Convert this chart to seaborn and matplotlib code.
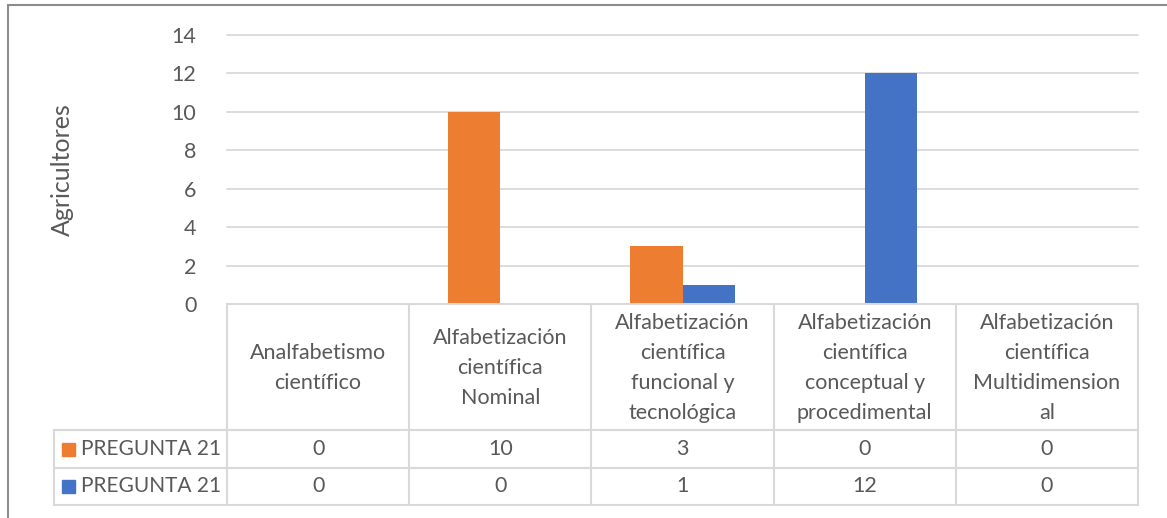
import matplotlib
matplotlib.use("Agg")
import matplotlib.pyplot as plt
import seaborn as sns
import pandas as pd
from matplotlib.lines import Line2D
from matplotlib.patches import Rectangle

categories = [
    "Analfabetismo\ncientífico",
    "Alfabetización\ncientífica\nNominal",
    "Alfabetización\ncientífica\nfuncional y\ntecnológica",
    "Alfabetización\ncientífica\nconceptual y\nprocedimental",
    "Alfabetización\ncientífica\nMultidimension\nal",
]
series_names = ["PREGUNTA 21", "PREGUNTA 21"]
series_a = [0, 10, 3, 0, 0]
series_b = [0, 0, 1, 12, 0]
series_values = [series_a, series_b]
series_colors = ["#ED7D31", "#4472C4"]
y_ticks = [0, 2, 4, 6, 8, 10, 12, 14]
y_label = "Agricultores"

W, H = 1167, 518
sns.set_theme(style="white")
plt.rcParams["font.family"] = ["Lato", "DejaVu Sans"]
TXT = "#595959"
GRID = "#d9d9d9"
FS = 15.5

rows = []
for s, vals in enumerate(series_values):
    for c, v in enumerate(vals):
        rows.append({"cat": c, "serie": s, "val": v})
df = pd.DataFrame(rows)

fig = plt.figure(figsize=(W / 100, H / 100), dpi=100)

def fx(px):
    return px / W

def fy(py):
    return 1 - py / H

left, right, top, bottom = 227, 1138, 35, 304
ax = fig.add_axes([fx(left), fy(bottom), fx(right - left), fy(top) - fy(bottom)])
sns.barplot(data=df, x="cat", y="val", hue="serie", palette=series_colors,
            order=list(range(len(categories))), hue_order=[0, 1],
            width=0.571, gap=0, ax=ax, legend=False, saturation=1,
            edgecolor="none", linewidth=0)
ax.set_xlim(-0.5, len(categories) - 0.5)
ax.set_ylim(0, 14)
ax.set_yticks(y_ticks)
ax.set_yticklabels([str(t) for t in y_ticks], color=TXT, fontsize=FS)
ax.tick_params(axis="y", length=0, pad=22)
ax.set_xticks([])
ax.set_xlabel("")
ax.set_ylabel("")
for sp in ax.spines.values():
    sp.set_visible(False)
for t in y_ticks[1:]:
    ax.axhline(t, color=GRID, lw=1.3, zorder=0, clip_on=False)
ax.set_axisbelow(True)

fig.text(fx(62), fy(170), y_label, rotation=90, ha="center", va="center",
         color=TXT, fontsize=FS + 2.5)

# data table under the plot
def hline(x0, x1, y, **kw):
    fig.add_artist(Line2D([fx(x0), fx(x1)], [fy(y), fy(y)], color=GRID, lw=1.5, **kw))

def vline(x, y0, y1):
    fig.add_artist(Line2D([fx(x), fx(x)], [fy(y0), fy(y1)], color=GRID, lw=1.5))

col_w = (right - left) / len(categories)
col_edges = [left + i * col_w for i in range(len(categories) + 1)]
row_top, head_bot, row1_bot, row2_bot = 304, 430, 468, 505
leg_left = 54

hline(left, right, row_top)
for y in (head_bot, row1_bot, row2_bot):
    hline(leg_left, right, y)
for x in col_edges:
    vline(x, row_top, row2_bot)
vline(leg_left, head_bot, row2_bot)

for i, lab in enumerate(categories):
    cx = (col_edges[i] + col_edges[i + 1]) / 2
    fig.text(fx(cx), fy((row_top + head_bot) / 2 + 1), lab, ha="center", va="center",
             multialignment="center", color=TXT, fontsize=FS, linespacing=1.62)

row_centers = [(head_bot + row1_bot) / 2, (row1_bot + row2_bot) / 2]
for s, vals in enumerate(series_values):
    yc = row_centers[s]
    fig.add_artist(Rectangle((fx(62), fy(yc + 6.5)), fx(13), fy(0) - fy(13),
                             color=series_colors[s], transform=fig.transFigure))
    fig.text(fx(81), fy(yc), series_names[s], ha="left", va="center",
             color=TXT, fontsize=FS - 0.5)
    for i, v in enumerate(vals):
        cx = (col_edges[i] + col_edges[i + 1]) / 2
        fig.text(fx(cx), fy(yc), str(v), ha="center", va="center",
                 color=TXT, fontsize=FS)

# chart frame
fig.add_artist(Line2D([fx(8), fx(W)], [fy(5), fy(5)], color="#8c8c8c", lw=1.5))
fig.add_artist(Line2D([fx(8), fx(8)], [fy(5), fy(H)], color="#8c8c8c", lw=1.5))

fig.savefig("out.png", dpi=100, facecolor="white")
